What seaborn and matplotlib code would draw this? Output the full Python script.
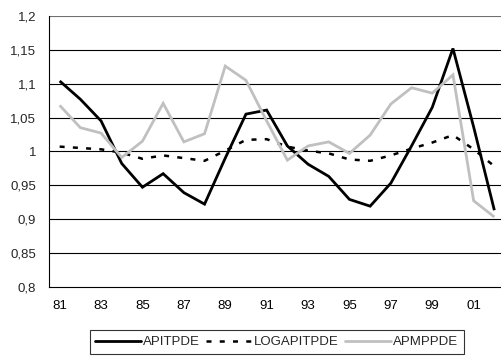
import matplotlib
matplotlib.use("Agg")
import matplotlib.pyplot as plt
import seaborn as sns
import pandas as pd
import numpy as np
from matplotlib.ticker import FixedLocator, FuncFormatter
from matplotlib.lines import Line2D

years = ["81", "82", "83", "84", "85", "86", "87", "88", "89", "90", "91",
         "92", "93", "94", "95", "96", "97", "98", "99", "00", "01", "02"]
apitpde = [1.104, 1.077, 1.045, 0.982, 0.947, 0.967, 0.939, 0.922, 0.990, 1.055, 1.061,
           1.008, 0.981, 0.963, 0.929, 0.919, 0.953, 1.008, 1.065, 1.152, 1.036, 0.913]
logapitpde = [1.007, 1.005, 1.003, 0.998, 0.989, 0.994, 0.990, 0.986, 1.001, 1.017, 1.018,
              1.007, 1.001, 0.997, 0.988, 0.986, 0.994, 1.004, 1.013, 1.024, 1.003, 0.978]
apmppde = [1.068, 1.035, 1.027, 0.991, 1.015, 1.071, 1.014, 1.026, 1.126, 1.105, 1.045,
           0.987, 1.008, 1.014, 0.997, 1.024, 1.070, 1.094, 1.086, 1.113, 0.927, 0.903]
series_names = ["APITPDE", "LOGAPITPDE", "APMPPDE"]
y_ticks = [0.8, 0.85, 0.9, 0.95, 1.0, 1.05, 1.1, 1.15, 1.2]

sns.set_style("white")
plt.rcParams['font.family'] = ['Liberation Sans', 'DejaVu Sans']
FS = 9.5

idx = np.arange(len(years))
df = pd.DataFrame({
    "x": np.concatenate([idx, idx, idx]),
    "value": apitpde + logapitpde + apmppde,
    "series": np.repeat(series_names, len(years)),
})

W, H = 501, 358
fig = plt.figure(figsize=(W / 100, H / 100), dpi=100)
left, right, top, bottom = 49.3, 504.7, 16, 286.7
ax = fig.add_axes([left / W, 1 - bottom / H, (right - left) / W, (bottom - top) / H])

for ytk in y_ticks[1:]:
    ax.axhline(ytk, color="#000000" if ytk < 1.19 else "#707070", lw=0.8, zorder=0)

DASH = (2.0, 3.3)
sns.lineplot(data=df, x="x", y="value", hue="series", style="series",
             hue_order=series_names, style_order=series_names,
             palette={"APITPDE": "#000000", "LOGAPITPDE": "#000000", "APMPPDE": "#c0c0c0"},
             dashes={"APITPDE": "", "LOGAPITPDE": DASH, "APMPPDE": ""},
             ax=ax, legend=False)
lws = [2.0, 1.8, 2.0]
for line, lw in zip(ax.get_lines()[-3:], lws):
    line.set_linewidth(lw)
    line.set_solid_capstyle("butt")
    line.set_solid_joinstyle("miter")

ax.set_xlim(-0.5, len(years) - 0.5)
ax.set_ylim(0.8, 1.2)
ax.set_yticks(y_ticks)
ax.yaxis.set_major_formatter(FuncFormatter(lambda v, p: f"{v:.2f}".rstrip("0").rstrip(".").replace(".", ",")))
ax.set_xticks(idx[::2])
ax.set_xticklabels(years[::2])
ax.xaxis.set_minor_locator(FixedLocator(np.arange(-0.5, len(years), 1.0)))
ax.tick_params(axis="x", which="major", length=0, pad=9.4, labelsize=FS, colors="#000000")
ax.tick_params(axis="x", which="minor", length=3.2, width=0.8, color="#000000", direction="out")
ax.tick_params(axis="y", which="major", length=3.0, width=0.8, color="#000000", labelsize=FS, pad=6.5, direction="out")
ax.set_xlabel("")
ax.set_ylabel("")
for s in ["top", "right"]:
    ax.spines[s].set_visible(False)
for s in ["left", "bottom"]:
    ax.spines[s].set_color("#000000")
    ax.spines[s].set_linewidth(0.8)

handles = [Line2D([], [], color="#000000", lw=2.0),
           Line2D([], [], color="#000000", lw=1.8, dashes=DASH),
           Line2D([], [], color="#c0c0c0", lw=2.0)]
leg = fig.legend(handles, series_names, loc="center", bbox_to_anchor=(276.7 / W, 1 - 342 / H),
                 ncol=3, frameon=True, fancybox=False, fontsize=FS, handlelength=3.45,
                 handletextpad=0.15, columnspacing=0.5, borderpad=0.45, borderaxespad=0)
leg.get_frame().set_edgecolor("#000000")
leg.get_frame().set_linewidth(0.8)

fig.savefig("out.png", dpi=100)
